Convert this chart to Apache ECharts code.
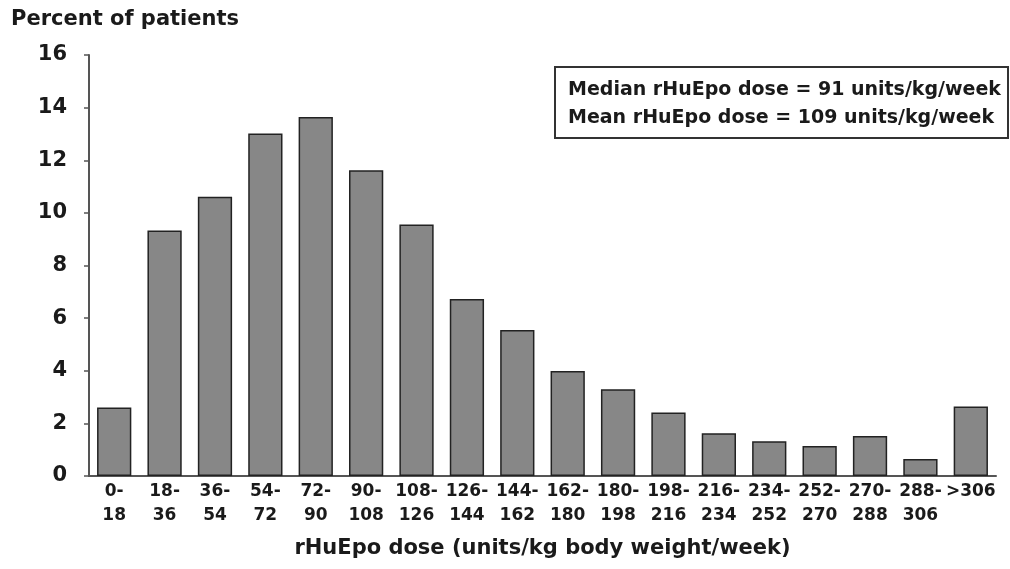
<!DOCTYPE html>
<html>
<head>
<meta charset="utf-8">
<script src="https://cdn.jsdelivr.net/npm/echarts@6/dist/echarts.min.js"></script>
<style>
  html, body { margin: 0; padding: 0; background: #fff; }
  #chart { width: 1010px; height: 569px; }
</style>
</head>
<body>
<div id="chart"></div>
<script>
const doseBins = ['0-\n18', '18-\n36', '36-\n54', '54-\n72', '72-\n90', '90-\n108', '108-\n126', '126-\n144',
  '144-\n162', '162-\n180', '180-\n198', '198-\n216', '216-\n234', '234-\n252', '252-\n270', '270-\n288',
  '288-\n306', '>306']
const percentPatients = [2.6, 9.33, 10.61, 13.02, 13.64, 11.62, 9.56, 6.73,
  5.55, 3.99, 3.3, 2.41, 1.62, 1.32, 1.14, 1.52, 0.65, 2.64]
const yTicks = { min: 0, max: 16, interval: 2 }
const yTitle = 'Percent of patients'
const xTitle = 'rHuEpo dose (units/kg body weight/week)'
const noteLines = ['Median rHuEpo dose = 91 units/kg/week', 'Mean rHuEpo dose = 109 units/kg/week']

const font = '"DejaVu Sans", sans-serif'
const chart = echarts.init(document.getElementById('chart'))

chart.setOption({
  animation: false,
  title: {
    text: yTitle,
    left: 11,
    top: 9,
    padding: 0,
    textStyle: { fontFamily: font, fontWeight: 'bold', fontSize: 21, color: '#1a1a1a' }
  },
  grid: { left: 89, right: 14, top: 55, bottom: 93 },
  xAxis: {
    type: 'category',
    data: doseBins,
    name: xTitle,
    nameLocation: 'middle',
    nameGap: 62,
    nameTextStyle: { fontFamily: font, fontWeight: 'bold', fontSize: 21, color: '#1a1a1a' },
    axisLine: { lineStyle: { color: '#555', width: 2 } },
    axisTick: { length: 5, lineStyle: { color: '#555', width: 1.5 } },
    axisLabel: {
      interval: 0,
      margin: 4,
      fontFamily: font,
      fontWeight: 'bold',
      fontSize: 17,
      lineHeight: 24,
      color: '#1a1a1a'
    }
  },
  yAxis: {
    type: 'value',
    min: yTicks.min,
    max: yTicks.max,
    interval: yTicks.interval,
    splitLine: { show: false },
    axisLine: { show: true, lineStyle: { color: '#555', width: 2 } },
    axisTick: { show: true, length: 5, lineStyle: { color: '#555', width: 1.5 } },
    axisLabel: {
      margin: 22,
      fontFamily: font,
      fontWeight: 'bold',
      fontSize: 21,
      color: '#1a1a1a'
    }
  },
  series: [{
    type: 'bar',
    data: percentPatients,
    barWidth: '68%',
    itemStyle: { color: '#878787', borderColor: '#222', borderWidth: 1.5 }
  }],
  graphic: [{
    type: 'group',
    left: 554,
    top: 66,
    children: [
      {
        type: 'rect',
        shape: { x: 0, y: 0, width: 453, height: 71 },
        style: { fill: '#fff', stroke: '#333', lineWidth: 2 }
      },
      {
        type: 'text',
        x: 13,
        y: 23,
        style: {
          text: noteLines[0],
          fontFamily: font, fontWeight: 'bold', fontSize: 19, fill: '#1a1a1a',
          verticalAlign: 'middle'
        }
      },
      {
        type: 'text',
        x: 13,
        y: 51,
        style: {
          text: noteLines[1],
          fontFamily: font, fontWeight: 'bold', fontSize: 19, fill: '#1a1a1a',
          verticalAlign: 'middle'
        }
      }
    ]
  }]
})
</script>
</body>
</html>
